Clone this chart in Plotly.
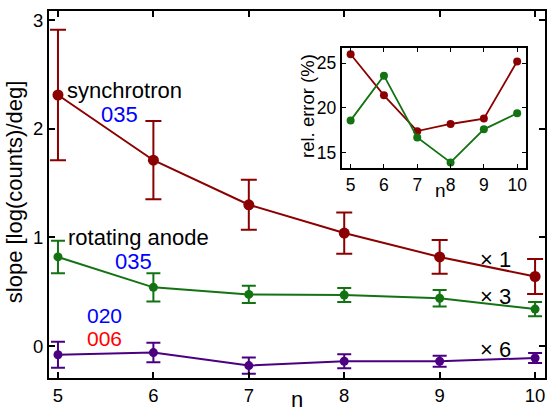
import plotly.graph_objects as go

# ---- data ----
n = [5, 6, 7, 8, 9, 10]
sync_slope = [2.31, 1.71, 1.30, 1.04, 0.82, 0.64]
sync_err = [0.60, 0.36, 0.23, 0.19, 0.155, 0.16]
rot035_slope = [0.82, 0.54, 0.475, 0.47, 0.44, 0.34]
rot035_err = [0.15, 0.13, 0.08, 0.065, 0.075, 0.065]
rot020_slope = [-0.08, -0.06, -0.18, -0.14, -0.14, -0.11]
rot020_err = [0.12, 0.09, 0.075, 0.065, 0.05, 0.045]
rel_err_sync = [26.0, 21.4, 17.4, 18.2, 18.8, 25.2]
rel_err_rot = [18.6, 23.6, 16.7, 13.9, 17.6, 19.4]

RED = "#8b0000"
GREEN = "#137313"
PURPLE = "#4b0082"
FONT = "Liberation Sans, Arial, sans-serif"

fig = go.Figure()

def main_trace(y, err, color, msize, cap):
    fig.add_trace(go.Scatter(
        x=n, y=y, mode="lines+markers",
        line=dict(color=color, width=2),
        marker=dict(color=color, size=msize),
        error_y=dict(type="data", array=err, visible=True, color=color,
                     thickness=2, width=cap),
        showlegend=False, xaxis="x", yaxis="y"))

main_trace(sync_slope, sync_err, RED, 11, 8)
main_trace(rot035_slope, rot035_err, GREEN, 9, 7)
main_trace(rot020_slope, rot020_err, PURPLE, 9, 7)

for y, color in [(rel_err_sync, RED), (rel_err_rot, GREEN)]:
    fig.add_trace(go.Scatter(
        x=n, y=y, mode="lines+markers",
        line=dict(color=color, width=1.8),
        marker=dict(color=color, size=8),
        showlegend=False, xaxis="x2", yaxis="y2"))

axis_common = dict(showline=True, linecolor="black", mirror="ticks",
                   ticks="inside", tickcolor="black", showgrid=False,
                   zeroline=False)

fig.update_layout(
    width=549, height=411,
    margin=dict(l=49, r=2, t=11, b=33),
    paper_bgcolor="white", plot_bgcolor="white",
    font=dict(family=FONT, color="black"),
    xaxis=dict(range=[4.906, 10.104], tickvals=n, linewidth=2.2,
               ticklen=6, tickwidth=1.5, tickfont=dict(size=18.5),
               **axis_common),
    yaxis=dict(range=[-0.294, 3.083], tickvals=[0, 1, 2, 3], linewidth=2.2,
               ticklen=6, tickwidth=1.5, tickfont=dict(size=18.5),
               **axis_common),
    xaxis2=dict(domain=[0.590, 0.962], anchor="y2", range=[4.73, 10.27],
                tickvals=n, linewidth=2, ticklen=4, tickwidth=1.3,
                tickfont=dict(size=17.5), **axis_common),
    yaxis2=dict(domain=[0.573, 0.899], anchor="x2", range=[13.31, 26.69],
                tickvals=[15, 20, 25], linewidth=2, ticklen=4, tickwidth=1.3,
                tickfont=dict(size=17.5), **axis_common),
)

# inset background
fig.add_shape(type="rect", xref="x2 domain", yref="y2 domain",
              x0=0, x1=1, y0=0, y1=1, fillcolor="#f2f2f2",
              line=dict(width=0), layer="below")

def ann(text, x, y, color="black", size=22, xanchor="left", xref="x", yref="y",
        angle=0, yanchor="middle"):
    fig.add_annotation(text=text, x=x, y=y, xref=xref, yref=yref,
                       showarrow=False, xanchor=xanchor, yanchor=yanchor,
                       textangle=angle,
                       font=dict(family=FONT, size=size, color=color))

ann("synchrotron", 5.07, 2.35)
ann("035", 5.65, 2.13, color="#0000ff", xanchor="center")
ann("rotating anode", 5.08, 1.00)
ann("035", 5.79, 0.78, color="#0000ff", xanchor="center")
ann("020", 5.49, 0.28, color="#0000ff", xanchor="center", size=21)
ann("006", 5.49, 0.065, color="#ff0000", xanchor="center", size=21)
ann("× 1", 9.58, 0.80, xanchor="center")
ann("× 3", 9.58, 0.46, xanchor="center")
ann("× 6", 9.58, -0.03, xanchor="center")

# axis titles
ann("slope [log(counts)/deg]", -0.068, 0.507, size=22, xanchor="center",
    xref="paper", yref="paper", angle=-90)
ann("n", 0.4995, -0.058, size=22, xanchor="center", xref="paper", yref="paper")
ann("rel. error (%)", (308 - 49) / 498, (378 - 106) / 367, size=18.5,
    xanchor="center", xref="paper", yref="paper", angle=-90)
ann("n", (442 - 49) / 498, (378 - 190) / 367, size=19, xanchor="center",
    xref="paper", yref="paper")

fig.write_html("out.html")
